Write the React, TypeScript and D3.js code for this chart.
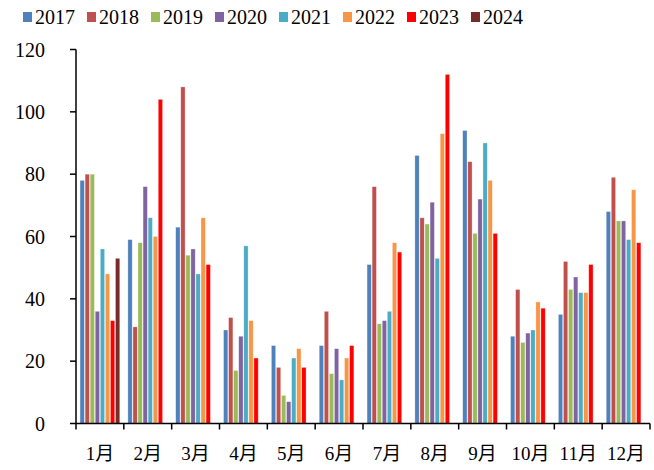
import React, { useEffect, useRef } from 'react';
import * as d3 from 'd3';

// Chart data
const months = ['1月', '2月', '3月', '4月', '5月', '6月', '7月', '8月', '9月', '10月', '11月', '12月'];
const years = ['2017', '2018', '2019', '2020', '2021', '2022', '2023', '2024'];
const v2017 = [78, 59, 63, 30, 25, 25, 51, 86, 94, 28, 35, 68];
const v2018 = [80, 31, 108, 34, 18, 36, 76, 66, 84, 43, 52, 79];
const v2019 = [80, 58, 54, 17, 9, 16, 32, 64, 61, 26, 43, 65];
const v2020 = [36, 76, 56, 28, 7, 24, 33, 71, 72, 29, 47, 65];
const v2021 = [56, 66, 48, 57, 21, 14, 36, 53, 90, 30, 42, 59];
const v2022 = [48, 60, 66, 33, 24, 21, 58, 93, 78, 39, 42, 75];
const v2023 = [33, 104, 51, 21, 18, 25, 55, 112, 61, 37, 51, 58];
const v2024 = [53, null, null, null, null, null, null, null, null, null, null, null];
const yTicks = [0, 20, 40, 60, 80, 100, 120];

const seriesValues = [v2017, v2018, v2019, v2020, v2021, v2022, v2023, v2024];
const colors = ['#4F81BD', '#C0504D', '#9BBB59', '#8064A2', '#4BACC6', '#F79646', '#FF0000', '#772C2A'];

const WIDTH = 654;
const HEIGHT = 470;
const FONT = '"Liberation Serif", "Noto Sans CJK SC", serif';

const App: React.FC = () => {
  const svgRef = useRef<SVGSVGElement>(null);

  useEffect(() => {
    if (!svgRef.current) return;
    const svg = d3.select(svgRef.current);
    svg.selectAll('*').remove();

    const left = 76;
    const right = 650;
    const top = 49.5;
    const bottom = 423.5;

    const x = d3.scaleBand<string>().domain(months).range([left, right]).padding(0);
    const xSub = d3.scaleBand<string>()
      .domain(years)
      .range([0, x.bandwidth()])
      .paddingOuter(0.8)
      .paddingInner(0.15);
    const y = d3.scaleLinear().domain([0, 120]).range([bottom, top]);

    // Bars
    const g = svg.append('g');
    years.forEach((yr, si) => {
      const vals = seriesValues[si];
      g.append('g')
        .selectAll('rect')
        .data(months.map((m, i) => ({ m, v: vals[i] })).filter(d => d.v != null))
        .join('rect')
        .attr('x', d => (x(d.m) || 0) + (xSub(yr) || 0))
        .attr('y', d => y(d.v as number))
        .attr('width', xSub.bandwidth())
        .attr('height', d => bottom - y(d.v as number))
        .attr('fill', colors[si])
        .attr('stroke', '#fff')
        .attr('stroke-opacity', 0.5)
        .attr('stroke-width', 0.6);
    });

    // Y axis
    const yAxis = svg.append('g');
    yAxis.append('line')
      .attr('x1', left).attr('x2', left)
      .attr('y1', top).attr('y2', bottom)
      .attr('stroke', '#000').attr('stroke-width', 1.5);
    yTicks.forEach(t => {
      yAxis.append('line')
        .attr('x1', left - 6).attr('x2', left)
        .attr('y1', y(t)).attr('y2', y(t))
        .attr('stroke', '#000').attr('stroke-width', 1.5);
      yAxis.append('text')
        .attr('x', 45)
        .attr('y', y(t))
        .attr('dy', '0.35em')
        .attr('text-anchor', 'end')
        .style('font-family', FONT)
        .style('font-size', '20px')
        .text(t);
    });

    // X axis
    const xAxis = svg.append('g');
    xAxis.append('line')
      .attr('x1', left).attr('x2', right)
      .attr('y1', bottom).attr('y2', bottom)
      .attr('stroke', '#000').attr('stroke-width', 1.5);
    [...months.map(m => x(m) || 0), right].forEach(px => {
      xAxis.append('line')
        .attr('x1', px).attr('x2', px)
        .attr('y1', bottom).attr('y2', bottom + 6)
        .attr('stroke', '#000').attr('stroke-width', 1.5);
    });
    xAxis.selectAll('text')
      .data(months)
      .join('text')
      .attr('x', d => (x(d) || 0) + x.bandwidth() / 2)
      .attr('y', 460)
      .attr('text-anchor', 'middle')
      .style('font-family', FONT)
      .style('font-size', '19px')
      .text(d => d);

    // Legend
    const legend = svg.append('g');
    years.forEach((yr, i) => {
      const lx = 23 + i * 64;
      legend.append('rect')
        .attr('x', lx).attr('y', 12)
        .attr('width', 9).attr('height', 10)
        .attr('fill', colors[i]);
      legend.append('text')
        .attr('x', lx + 12)
        .attr('y', 24)
        .style('font-family', FONT)
        .style('font-size', '20px')
        .text(yr);
    });
  }, []);

  return (
    <svg
      ref={svgRef}
      width={WIDTH}
      height={HEIGHT}
      style={{ position: 'absolute', left: 0, top: 0, background: '#fff' }}
    />
  );
};

export default App;
